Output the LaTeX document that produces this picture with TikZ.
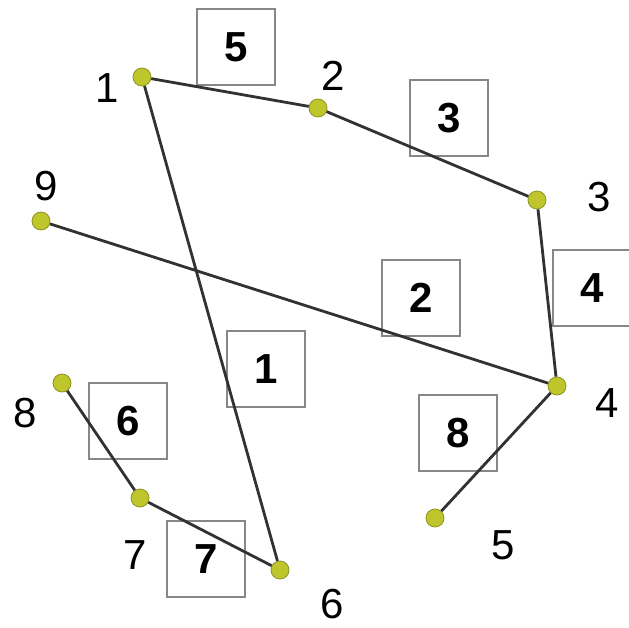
\documentclass[tikz,border=0pt]{standalone}
\usepackage{fontspec}
\setmainfont{Liberation Sans}
\usetikzlibrary{positioning}
\definecolor{dotfill}{RGB}{190,198,44}
\definecolor{edgegray}{RGB}{50,50,50}
\definecolor{boxgray}{RGB}{135,135,135}

\begin{document}
\begin{tikzpicture}[
  x=0.5pt, y=-0.5pt,
  vtx/.style={circle, fill=dotfill, draw=dotfill!75!black, line width=0.4pt, inner sep=0pt, minimum size=9pt},
  vlabel/.style={font=\fontsize{21}{21}\selectfont},
  wbox/.style={draw=boxgray, line width=1.2pt, minimum width=39pt, minimum height=38pt, font=\fontsize{21}{21}\selectfont\bfseries},
  edge/.style={draw=edgegray, line width=1.4pt}
]
  \useasboundingbox (0,0) rectangle (629,628);

  % weight boxes
  \node[wbox] (w5) at (236,47) {5};
  \node[wbox] (w3) at (449,118) {3};
  \node[wbox] (w4) at (592,288) {4};
  \node[wbox] (w2) at (421,298) {2};
  \node[wbox] (w1) at (266,369) {1};
  \node[wbox] (w8) at (458,433) {8};
  \node[wbox] (w6) at (128,421) {6};
  \node[wbox] (w7) at (206,559) {7};

  % vertices
  \node[vtx] (v1) at (142,77) {};
  \node[vtx] (v2) at (318,108) {};
  \node[vtx] (v3) at (537,200) {};
  \node[vtx] (v4) at (557,386) {};
  \node[vtx] (v5) at (435,518) {};
  \node[vtx] (v6) at (280,570) {};
  \node[vtx] (v7) at (140,498) {};
  \node[vtx] (v8) at (62,383) {};
  \node[vtx] (v9) at (41,221) {};

  \node[vlabel] (n1) at (107,88) {1};
  \node[vlabel] (n2) at (333,76) {2};
  \node[vlabel] (n3) at (599,197) {3};
  \node[vlabel] (n4) at (607,403) {4};
  \node[vlabel] (n5) at (503,545) {5};
  \node[vlabel] (n6) at (332,604) {6};
  \node[vlabel] (n7) at (135,555) {7};
  \node[vlabel] (n8) at (25,413) {8};
  \node[vlabel] (n9) at (46,186) {9};

  % edges
  \draw[edge] (v1) -- (v2);
  \draw[edge] (v2) -- (v3);
  \draw[edge] (v3) -- (v4);
  \draw[edge] (v9) -- (v4);
  \draw[edge] (v1) -- (v6);
  \draw[edge] (v4) -- (v5);
  \draw[edge] (v8) -- (v7);
  \draw[edge] (v7) -- (v6);
\end{tikzpicture}
\end{document}
